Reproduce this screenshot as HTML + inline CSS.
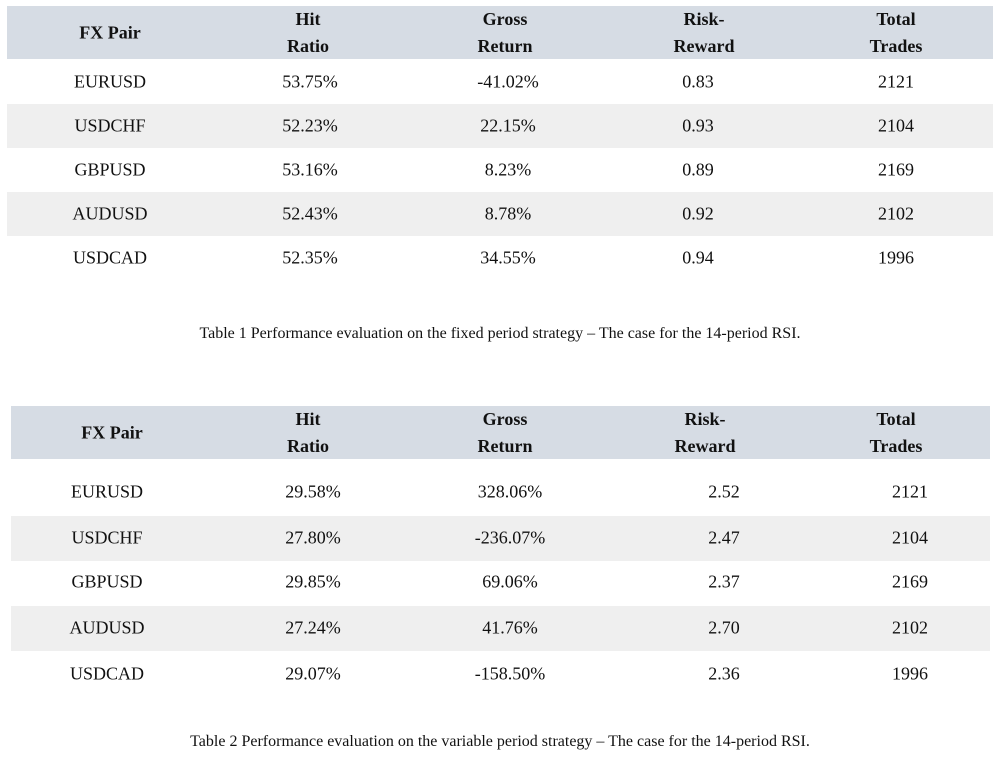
<!DOCTYPE html>
<html><head><meta charset="utf-8"><style>
body{margin:0;width:1000px;height:757px;background:#fff;position:relative;overflow:hidden;font-family:"Liberation Serif",serif;color:#111}
.bg{position:absolute}
.t{position:absolute;transform:translate(-50%,-50%);white-space:nowrap;font-size:18px;text-align:center}
.h{font-weight:bold;font-size:18px;line-height:27px}
.cap{position:absolute;transform:translateX(-50%);font-size:16px;white-space:nowrap}
</style></head><body>
<script>
const headers=["FX Pair","Hit<br>Ratio","Gross<br>Return","Risk-<br>Reward","Total<br>Trades"];
const pairs=["EURUSD","USDCHF","GBPUSD","AUDUSD","USDCAD"];
const hit1=["53.75%","52.23%","53.16%","52.43%","52.35%"];
const gross1=["-41.02%","22.15%","8.23%","8.78%","34.55%"];
const rr1=["0.83","0.93","0.89","0.92","0.94"];
const trades1=["2121","2104","2169","2102","1996"];
const hit2=["29.58%","27.80%","29.85%","27.24%","29.07%"];
const gross2=["328.06%","-236.07%","69.06%","41.76%","-158.50%"];
const rr2=["2.52","2.47","2.37","2.70","2.36"];
const trades2=["2121","2104","2169","2102","1996"];
const root=document.body;
function box(x,y,w,h,c,name){const d=document.createElement('div');d.className='bg';


d.style.cssText=`left:${x}px;top:${y}px;width:${w}px;height:${h}px;background:${c}`;root.appendChild(d);}
function txt(x,y,s,cls,name){const d=document.createElement('div');d.className='t '+(cls||'');


d.style.left=x+'px';d.style.top=y+'px';d.innerHTML=s;root.appendChild(d);}
function table(id,x0,w,hy,rowYs,rowH,hx,dx,cols){
 box(x0,hy,w,53,'#d6dce4',id+'-header-bg');
 rowYs.forEach((y,i)=>{if(i%2==1)box(x0,y-rowH/2,w,rowH,'#efefef',id+'-row-band');});
 headers.forEach((h,i)=>txt(hx[i],hy+27,h,'h',id+'-header-cell'));
 rowYs.forEach((y,r)=>{txt(dx[0],y,pairs[r],'',id+'-pair-cell');
  cols.forEach((c,k)=>txt(dx[k+1],y,c[r],'',id+'-value-cell'));});
}
table('table1',7,986,6,[82,126,170,214,258],44,[110,308,505,704,896],[110,310,508,698,896],[hit1,gross1,rr1,trades1]);
table('table2',11,979,406,[492,538,582,628,674],45,[112,308,505,705,896],[107,313,510,724,910],[hit2,gross2,rr2,trades2]);
</script>
<div class="cap" style="left:500px;top:325px">Table 1 Performance evaluation on the fixed period strategy – The case for the 14-period RSI.</div>
<div class="cap" style="left:500px;top:733px">Table 2 Performance evaluation on the variable period strategy – The case for the 14-period RSI.</div>
</body></html>
